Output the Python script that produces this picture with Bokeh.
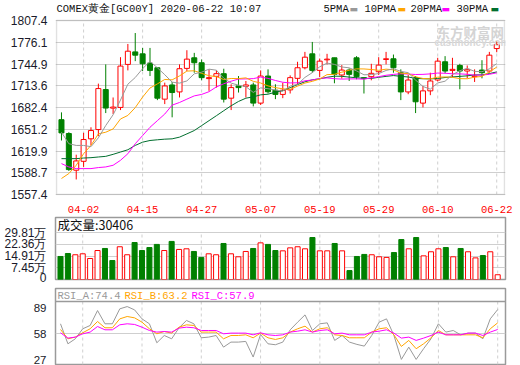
from bokeh.plotting import figure
from bokeh.models import ColumnDataSource, Range1d, FixedTicker, Label, Span, BoxAnnotation
from bokeh.layouts import column
from bokeh.embed import file_html
from bokeh.resources import INLINE

# ---------------- data ----------------
dates = ["03-30", "03-31", "04-01", "04-02", "04-03", "04-06", "04-07", "04-08", "04-09", "04-13",
         "04-14", "04-15", "04-16", "04-17", "04-20", "04-21", "04-22", "04-23", "04-24", "04-27",
         "04-28", "04-29", "04-30", "05-01", "05-04", "05-05", "05-06", "05-07", "05-08", "05-11",
         "05-12", "05-13", "05-14", "05-15", "05-18", "05-19", "05-20", "05-21", "05-22", "05-25",
         "05-26", "05-27", "05-28", "05-29", "06-01", "06-02", "06-03", "06-04", "06-05", "06-08",
         "06-09", "06-10", "06-11", "06-12", "06-15", "06-16", "06-17", "06-18", "06-19", "06-22"]

open_ = [1664.9, 1645.0, 1592.3, 1605.1, 1637.4, 1650.7, 1708.2, 1681.5, 1682.5, 1744.3,
         1762.3, 1759.5, 1746.2, 1739.5, 1694.4, 1714.8, 1704.8, 1738.6, 1753.8, 1746.7,
         1723.9, 1727.2, 1731.0, 1695.8, 1713.4, 1712.9, 1714.8, 1688.7, 1727.6, 1707.2,
         1701.2, 1707.7, 1724.3, 1739.5, 1759.5, 1735.7, 1750.9, 1753.8, 1729.1, 1736.2,
         1753.8, 1725.3, 1726.7, 1733.8, 1751.4, 1752.4, 1732.4, 1704.8, 1725.3, 1688.7,
         1706.3, 1721.9, 1748.1, 1735.7, 1742.8, 1734.8, 1726.7, 1736.2, 1734.8, 1767.1]
high = [1675.4, 1646.9, 1614.6, 1646.0, 1654.0, 1716.7, 1744.3, 1696.8, 1754.7, 1773.7,
        1789.4, 1768.0, 1768.0, 1739.5, 1718.1, 1719.1, 1744.3, 1764.7, 1760.9, 1751.4,
        1737.2, 1735.7, 1738.1, 1715.8, 1727.6, 1720.5, 1718.1, 1735.7, 1737.2, 1715.8,
        1718.1, 1728.6, 1748.1, 1762.3, 1776.6, 1752.8, 1759.5, 1753.8, 1743.3, 1738.6,
        1756.2, 1725.3, 1745.2, 1754.7, 1762.3, 1758.5, 1737.2, 1729.1, 1727.6, 1713.4,
        1732.4, 1753.8, 1756.2, 1753.8, 1745.2, 1742.8, 1737.2, 1750.4, 1762.3, 1777.5]
low = [1635.0, 1591.3, 1579.0, 1597.0, 1627.9, 1641.2, 1674.4, 1673.0, 1678.7, 1735.7,
       1749.0, 1734.8, 1727.6, 1693.0, 1687.3, 1668.3, 1696.8, 1734.8, 1732.4, 1721.5,
       1706.3, 1711.0, 1689.6, 1678.7, 1703.9, 1696.8, 1684.0, 1686.0, 1702.5, 1694.4,
       1695.8, 1702.5, 1715.8, 1737.2, 1732.4, 1726.2, 1744.3, 1717.2, 1723.9, 1720.5,
       1722.9, 1702.5, 1721.5, 1729.1, 1744.3, 1732.4, 1693.0, 1701.5, 1674.4, 1682.5,
       1700.1, 1719.8, 1731.5, 1726.2, 1708.6, 1724.3, 1719.1, 1724.3, 1732.4, 1761.8]
close = [1645.9, 1593.2, 1605.6, 1636.4, 1649.3, 1709.6, 1681.6, 1683.0, 1741.9, 1763.3,
         1757.6, 1745.2, 1735.7, 1695.8, 1713.4, 1703.9, 1738.1, 1751.9, 1746.7, 1725.3,
         1725.3, 1731.0, 1694.4, 1711.0, 1711.0, 1714.8, 1688.7, 1727.6, 1705.0, 1701.2,
         1707.2, 1725.3, 1739.5, 1754.7, 1735.7, 1749.0, 1751.9, 1730.0, 1736.2, 1730.0,
         1726.7, 1723.9, 1731.5, 1743.3, 1752.4, 1739.5, 1704.8, 1721.9, 1690.6, 1706.3,
         1720.5, 1749.0, 1734.8, 1737.2, 1734.8, 1737.2, 1727.6, 1732.4, 1757.6, 1772.8]

ma5 = [1646.9, 1630.3, 1627.9, 1627.9, 1626.1, 1638.8, 1656.5, 1672.0, 1693.1, 1715.9,
       1725.5, 1738.2, 1748.7, 1739.5, 1729.5, 1718.8, 1717.4, 1720.6, 1730.8, 1733.2,
       1737.5, 1736.0, 1724.5, 1717.4, 1714.5, 1712.4, 1704.0, 1710.6, 1709.4, 1707.5,
       1705.9, 1713.3, 1715.6, 1725.6, 1732.5, 1740.8, 1746.2, 1744.3, 1740.6, 1739.4,
       1735.0, 1729.4, 1729.7, 1731.1, 1735.6, 1738.1, 1734.3, 1732.4, 1721.8, 1712.6,
       1708.8, 1717.7, 1720.2, 1729.6, 1735.3, 1738.6, 1734.3, 1733.8, 1737.9, 1745.5]
ma10 = [1580.4, 1587.5, 1599.4, 1616.0, 1627.9, 1644.5, 1646.9, 1651.6, 1665.9, 1671.0,
        1682.2, 1697.4, 1710.4, 1716.3, 1722.7, 1722.1, 1727.8, 1734.7, 1735.2, 1731.4,
        1728.1, 1726.7, 1722.6, 1724.1, 1723.9, 1725.0, 1720.0, 1717.6, 1713.4, 1711.0,
        1709.2, 1708.6, 1713.1, 1717.5, 1720.0, 1723.4, 1729.7, 1730.0, 1733.1, 1736.0,
        1737.9, 1737.8, 1737.0, 1735.8, 1737.5, 1736.5, 1731.8, 1731.0, 1726.5, 1724.1,
        1723.5, 1726.0, 1726.3, 1725.7, 1723.9, 1723.7, 1726.0, 1727.0, 1733.7, 1740.4]
ma20 = [1601.8, 1597.0, 1594.6, 1594.6, 1594.6, 1596.1, 1597.0, 1599.4, 1606.5, 1616.0,
        1630.3, 1642.1, 1654.0, 1663.5, 1673.0, 1685.8, 1689.6, 1694.4, 1699.1, 1701.2,
        1705.1, 1712.0, 1716.5, 1720.2, 1723.3, 1723.5, 1723.9, 1726.1, 1724.3, 1721.2,
        1718.7, 1717.7, 1717.9, 1720.8, 1721.9, 1724.2, 1724.9, 1723.8, 1723.2, 1723.5,
        1723.5, 1723.2, 1725.0, 1726.7, 1728.7, 1730.0, 1730.8, 1730.5, 1729.8, 1730.0,
        1730.7, 1731.9, 1731.6, 1730.8, 1730.7, 1730.1, 1728.9, 1729.0, 1730.1, 1732.2]
ma30 = [1608.9, 1608.9, 1608.9, 1609.8, 1610.3, 1611.3, 1612.2, 1615.1, 1618.4, 1621.7,
        1627.9, 1632.6, 1635.0, 1636.0, 1636.9, 1637.4, 1639.8, 1644.5, 1649.3, 1656.4,
        1663.5, 1670.6, 1677.8, 1684.9, 1691.1, 1695.8, 1697.7, 1700.6, 1701.5, 1704.4,
        1706.5, 1710.9, 1715.4, 1719.3, 1722.2, 1723.5, 1725.8, 1727.4, 1727.2, 1726.1,
        1725.1, 1724.4, 1724.2, 1725.8, 1727.1, 1728.3, 1727.2, 1726.2, 1724.3, 1723.7,
        1723.5, 1724.1, 1725.5, 1726.3, 1727.1, 1727.9, 1729.2, 1729.3, 1731.1, 1733.5]

# volume in 万 (10k lots)
volume = [14.7, 16.6, 15.8, 16.4, 13.4, 18.5, 19.8, 12.1, 20.9, 15.8,
          23.6, 18.5, 20.4, 22.4, 18.5, 24.3, 19.2, 19.6, 17.9, 14.1,
          16.4, 15.8, 23.0, 16.4, 14.5, 17.9, 19.8, 23.4, 22.4, 18.5,
          18.3, 20.2, 20.9, 19.6, 26.8, 18.3, 18.3, 23.0, 18.3, 5.7,
          14.7, 16.0, 15.8, 14.5, 14.1, 17.2, 25.5, 19.6, 26.8, 15.1,
          17.7, 19.6, 20.4, 14.5, 19.8, 17.7, 13.8, 15.3, 17.7, 3.04]
vol_up = [0, 0, 1, 1, 1, 1, 0, 0, 1, 1,
          0, 0, 0, 0, 1, 0, 1, 1, 0, 0,
          1, 1, 0, 1, 1, 1, 0, 1, 0, 0,
          1, 1, 1, 1, 0, 1, 1, 0, 1, 0,
          0, 0, 1, 1, 1, 0, 0, 1, 0, 1,
          1, 1, 0, 1, 0, 1, 1, 0, 1, 1]

rsi_a = [69.8, 46.2, 52.1, 63.9, 67.8, 85.4, 69.8, 69.8, 87.4, 90.1,
         86.2, 75.6, 69.8, 47.4, 56.0, 52.1, 65.1, 73.7, 69.8, 53.3,
         54.1, 56.0, 42.3, 48.2, 48.2, 49.0, 30.6, 57.2, 46.2, 45.1,
         48.2, 62.7, 71.7, 80.3, 61.9, 69.8, 70.9, 50.2, 56.0, 48.2,
         45.5, 43.5, 56.0, 71.7, 75.6, 56.0, 27.8, 42.3, 27.8, 40.4,
         52.1, 69.8, 60.0, 61.9, 56.8, 58.8, 58.8, 52.1, 75.6, 86.6]
rsi_b = [63.1, 52.1, 54.1, 59.2, 63.9, 72.5, 65.1, 65.1, 75.6, 78.4,
         76.8, 71.7, 63.9, 58.0, 60.7, 58.8, 65.8, 68.6, 67.8, 60.0,
         60.0, 60.0, 52.1, 56.0, 56.0, 56.8, 53.3, 58.8, 53.3, 51.3,
         53.3, 60.0, 63.9, 67.0, 60.0, 63.9, 65.1, 56.8, 56.0, 53.3,
         53.3, 53.3, 60.0, 63.9, 65.1, 56.8, 43.1, 50.2, 40.4, 46.2,
         53.3, 61.9, 56.8, 56.8, 56.8, 56.8, 56.8, 53.3, 63.9, 70.9]
rsi_c = [59.2, 52.9, 54.1, 58.0, 60.0, 66.6, 62.7, 62.7, 68.6, 69.8,
         69.0, 65.8, 61.9, 60.0, 60.7, 60.0, 64.7, 65.8, 65.1, 61.9,
         61.9, 61.9, 58.0, 58.8, 58.8, 58.8, 56.8, 59.2, 56.8, 56.0,
         56.8, 60.0, 61.1, 62.7, 60.0, 61.9, 62.7, 58.0, 58.8, 56.8,
         56.8, 56.8, 60.0, 61.1, 62.7, 58.8, 52.9, 54.1, 50.2, 52.9,
         56.0, 60.0, 56.8, 56.8, 56.8, 58.8, 58.8, 56.0, 60.0, 63.1]

price_ticks = [1557.4, 1588.7, 1619.9, 1651.2, 1682.4, 1713.6, 1744.9, 1776.1, 1807.4]
price_labels = ["1557.4", "1588.7", "1619.9", "1651.2", "1682.4", "1713.6", "1744.9", "1776.1", "1807.4"]
vol_ticks = [0, 7.45, 14.91, 22.36, 29.81]
vol_labels = ["0", "7.45万", "14.91万", "22.36万", "29.81万"]
rsi_ticks = [27, 58, 89]
rsi_labels = ["27", "58", "89"]
date_tick_idx = [3, 11, 19, 27, 35, 43, 51, 59]

title_text = "COMEX黄金[GC00Y] 2020-06-22 10:07"
vol_title = "成交量:30406"
rsi_titles = ["RSI_A:74.4", "RSI_B:63.2", "RSI_C:57.9"]
ma_names = ["5PMA", "10PMA", "20PMA", "30PMA"]

# ---------------- styles / geometry ----------------
RED = "#ff0000"
GREEN = "#008000"
C5, C10, C20, C30 = "#999999", "#ffa500", "#ff00ff", "#006e2e"
GRID = "#cfcfcf"
FRAME = "#9a9a9a"
MONO = "Liberation Mono"
SANS = "Liberation Sans"
W = 520
PX = 7.41                      # pixels per candle
X0 = -5 / PX                   # value at left edge of the panel box
X1 = X0 + 450 / PX             # value at right edge of the panel box

n = len(close)
xs = list(range(n))
up = [c >= o for o, c in zip(open_, close)]
src = ColumnDataSource(dict(
    x=xs, high=high, low=low,
    top=[max(o, c) for o, c in zip(open_, close)],
    bot=[min(o, c) for o, c in zip(open_, close)],
    line=[RED if u else GREEN for u in up],
    fill=["white" if u else GREEN for u in up],
    ma5=ma5, ma10=ma10, ma20=ma20, ma30=ma30,
    vol=volume,
    vline=[RED if u else GREEN for u in vol_up],
    vfill=["white" if u else GREEN for u in vol_up],
    ra=rsi_a, rb=rsi_b, rc=rsi_c,
))


def style_yaxis(p, ticks, labels, standoff, size="12px"):
    ya = p.yaxis[0]
    ya.ticker = FixedTicker(ticks=ticks)
    ya.major_label_overrides = {t: l for t, l in zip(ticks, labels)}
    ya.axis_line_color = None
    ya.major_tick_line_color = None
    ya.minor_tick_line_color = None
    ya.major_label_standoff = standoff
    ya.major_label_text_font = SANS
    ya.major_label_text_font_size = size
    ya.major_label_text_color = "#1a1a2a"


def panel(h, xr, yr, left, right, top, bottom):
    p = figure(width=W, height=h, x_range=xr, y_range=yr,
               output_backend="svg", toolbar_location=None,
               min_border_left=left, min_border_right=right,
               min_border_top=top, min_border_bottom=bottom)
    p.background_fill_color = "white"
    p.border_fill_color = "white"
    p.xgrid.visible = False
    return p


# ---------------- main price panel ----------------
# frame is 1px wider than the drawn box on each side, and extends up over the title row
UPP = (price_ticks[-1] - price_ticks[0]) / 174.0
p1 = panel(215, Range1d(X0 - 1 / PX, X1 + 1 / PX),
           Range1d(price_ticks[0] - UPP, price_ticks[-1] + 20 * UPP), 54, W - 54 - 452, 0, 20)
p1.outline_line_color = None
style_yaxis(p1, price_ticks, price_labels, 2)
p1.ygrid.ticker = FixedTicker(ticks=price_ticks)
p1.ygrid.grid_line_color = GRID
xa = p1.xaxis[0]
xa.ticker = FixedTicker(ticks=date_tick_idx)
xa.major_label_overrides = {i: dates[i] for i in date_tick_idx}
xa.axis_line_color = None
xa.major_tick_line_color = None
xa.minor_tick_line_color = None
xa.major_label_standoff = 4
xa.major_label_text_font = MONO
xa.major_label_text_font_size = "10.5px"
xa.major_label_text_color = RED

p1.segment(x0=date_tick_idx, y0=[price_ticks[0]] * 8, x1=date_tick_idx,
           y1=[price_ticks[-1]] * 8, color=GRID, line_dash="3 3")
p1.segment(x0="x", y0="low", x1="x", y1="high", color="line", line_width=1, source=src)
p1.vbar(x="x", top="top", bottom="bot", width=0.68, fill_color="fill", line_color="line",
        line_width=1, source=src)
for col, c in (("ma30", C30), ("ma20", C20), ("ma10", C10), ("ma5", C5)):
    p1.line("x", col, color=c, line_width=1, source=src)
p1.add_layout(BoxAnnotation(left=X0, right=X1, bottom=price_ticks[0], top=price_ticks[-1],
                            fill_alpha=0, line_color=FRAME, line_width=1.5))

# watermark
p1.add_layout(Label(x=381, y=164, x_units="screen", y_units="screen", text="东方财富网",
                    text_font="Noto Sans CJK SC", text_font_size="13.5px", text_font_style="bold",
                    text_color="#d4d4d4", text_baseline="middle"))
p1.add_layout(Label(x=379, y=153, x_units="screen", y_units="screen", text="eastmoney.com",
                    text_font=SANS, text_font_size="10px", text_font_style="bold",
                    text_color="#d8d8d8", text_baseline="middle"))
# title + legend (row above the price box)
p1.add_layout(Label(x=1, y=187, x_units="screen", y_units="screen", text=title_text,
                    text_font=MONO, text_font_size="10.5px", text_color="#111111",
                    text_baseline="middle"))
for name, c, lx, sx in zip(ma_names, (C5, C10, C20, C30), (268, 309, 355, 401), (294, 342, 386, 435)):
    p1.add_layout(Label(x=lx, y=187, x_units="screen", y_units="screen", text=name,
                        text_font=MONO, text_font_size="10.5px", text_color="#111111",
                        text_baseline="middle"))
    p1.add_layout(Label(x=sx, y=187, x_units="screen", y_units="screen", text="▬",
                        text_font="DejaVu Sans", text_font_size="9px", text_color=c,
                        text_baseline="middle"))

# ---------------- volume panel ----------------
p2 = panel(69, Range1d(X0, X1), Range1d(0, 39.58), 55, W - 55 - 450, 2, 5)
p2.outline_line_color = FRAME
p2.outline_line_width = 1.5
p2.xaxis.visible = False
style_yaxis(p2, vol_ticks, vol_labels, 3)
p2.ygrid.ticker = FixedTicker(ticks=vol_ticks[1:])
p2.ygrid.grid_line_color = GRID
p2.segment(x0=date_tick_idx, y0=[0] * 8, x1=date_tick_idx,
           y1=[vol_ticks[-1]] * 8, color=GRID, line_dash="3 3")
p2.vbar(x="x", top="vol", bottom=0, width=0.68, fill_color="vfill", line_color="vline",
        line_width=1, source=src)
p2.add_layout(Label(x=2, y=55, x_units="screen", y_units="screen", text=vol_title,
                    text_font="Noto Sans CJK SC", text_font_size="12.5px", text_color="#111111",
                    text_baseline="middle"))

# ---------------- RSI panel ----------------
RSI_LO, RSI_HI, RSI_SEP = 21.8, 111.4, 96.1
p3 = panel(81, Range1d(X0, X1), Range1d(RSI_LO, RSI_HI), 55, W - 55 - 450, 4, 1)
p3.outline_line_color = FRAME
p3.outline_line_width = 1.5
p3.xaxis.visible = False
style_yaxis(p3, rsi_ticks, rsi_labels, 3, "11.5px")
p3.ygrid.ticker = FixedTicker(ticks=[58])
p3.ygrid.grid_line_color = GRID
p3.segment(x0=date_tick_idx, y0=[RSI_LO] * 8, x1=date_tick_idx,
           y1=[RSI_SEP] * 8, color=GRID, line_dash="3 3")
p3.add_layout(Span(location=RSI_SEP, dimension="width", line_color=FRAME, line_width=1.5))
p3.line("x", "ra", color=C5, line_width=1, source=src)
p3.line("x", "rb", color=C10, line_width=1, source=src)
p3.line("x", "rc", color=C20, line_width=1, source=src)
for t, c, lx in zip(rsi_titles, (C5, C10, C20), (2, 69, 136)):
    p3.add_layout(Label(x=lx, y=69, x_units="screen", y_units="screen", text=t,
                        text_font=MONO, text_font_size="10.5px", text_color=c,
                        text_baseline="middle"))

layout = column(p1, p2, p3, spacing=0)
open("out.html", "w").write(file_html(layout, INLINE))
